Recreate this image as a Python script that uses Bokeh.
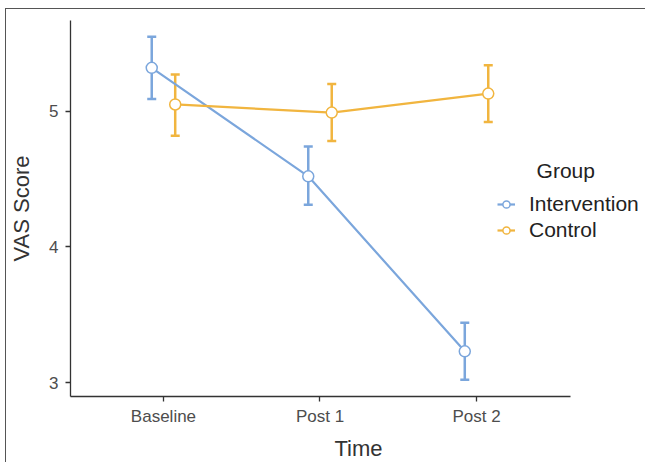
from bokeh.plotting import figure
from bokeh.models import (ColumnDataSource, Whisker, TeeHead, Legend, LegendItem,
                          FixedTicker, Range1d, Label)
from bokeh.embed import file_html
from bokeh.resources import INLINE

# ---- data ----
time_labels = ["Baseline", "Post 1", "Post 2"]
time_pos = [1, 2, 3]
groups = ["Intervention", "Control"]
dodge = [-0.075, 0.075]
colors = ["#7ba6dc", "#f1b53f"]

interv_mean = [5.32, 4.52, 3.23]
interv_lower = [5.09, 4.31, 3.02]
interv_upper = [5.55, 4.74, 3.44]

control_mean = [5.05, 4.99, 5.13]
control_lower = [4.82, 4.78, 4.92]
control_upper = [5.27, 5.20, 5.34]

means = [interv_mean, control_mean]
lowers = [interv_lower, control_lower]
uppers = [interv_upper, control_upper]

FONT = "Liberation Sans"

p = figure(width=640, height=454, output_backend="svg", toolbar_location=None,
           x_range=Range1d(0.406, 4.086), y_range=Range1d(2.897, 5.669),
           min_border_left=64, min_border_right=0, min_border_top=11,
           min_border_bottom=66)
p.margin = (8, 0, 0, 5)
p.styles = {"border-top": "1px solid #555555", "border-left": "1px solid #555555"}
p.outline_line_color = None
p.xgrid.visible = False
p.ygrid.visible = False

items = []
for g, d, c, m, lo, up in zip(groups, dodge, colors, means, lowers, uppers):
    src = ColumnDataSource(dict(x=[t + d for t in time_pos], y=m, lower=lo, upper=up))
    w = Whisker(source=src, base="x", lower="lower", upper="upper", dimension="height",
                line_color=c, line_width=2.5,
                upper_head=TeeHead(size=9, line_color=c, line_width=2.5),
                lower_head=TeeHead(size=9, line_color=c, line_width=2.5))
    p.add_layout(w)
    ln = p.line("x", "y", source=src, line_color=c, line_width=2.2)
    sc = p.scatter("x", "y", source=src, size=11, fill_color="white", line_color=c,
                   line_width=1.5)
    items.append(LegendItem(label=g, renderers=[ln, sc]))

legend = Legend(items=items, location=(427, 154), padding=0, margin=0,
                border_line_color=None, background_fill_alpha=0,
                label_text_font=FONT, label_text_font_size="21px",
                label_text_color="#222222", glyph_width=18, glyph_height=22,
                label_height=22, spacing=2, label_standoff=14)
p.add_layout(legend)

p.add_layout(Label(x=3.57, y=4.56, text="Group", text_align="center",
                   text_baseline="middle", text_font=FONT, text_font_size="21px",
                   text_color="#222222"))

# axes
p.xaxis.ticker = FixedTicker(ticks=time_pos)
p.xaxis.major_label_overrides = {t: l for t, l in zip(time_pos, time_labels)}
p.xaxis.bounds = (0.406, 3.6)
p.yaxis.ticker = FixedTicker(ticks=[3, 4, 5])
p.xaxis.axis_label = "Time"
p.yaxis.axis_label = "VAS Score"
for ax in (p.xaxis, p.yaxis):
    ax.axis_line_color = "#333333"
    ax.axis_line_width = 1.3
    ax.major_tick_line_color = "#333333"
    ax.major_tick_line_width = 1.3
    ax.major_tick_out = 5
    ax.major_tick_in = 0
    ax.minor_tick_line_color = None
    ax.major_label_text_font = FONT
    ax.major_label_text_font_size = "17px"
    ax.major_label_text_color = "#4d4d4d"
    ax.axis_label_text_font = FONT
    ax.axis_label_text_font_size = "22px"
    ax.axis_label_text_font_style = "normal"
    ax.axis_label_text_color = "#333333"
p.xaxis.major_label_standoff = 5
p.xaxis.axis_label_standoff = 7
p.yaxis.major_label_standoff = 7
p.yaxis.axis_label_standoff = 12
p.yaxis.major_label_orientation = "horizontal"

open("out.html", "w").write(file_html(p, INLINE))
